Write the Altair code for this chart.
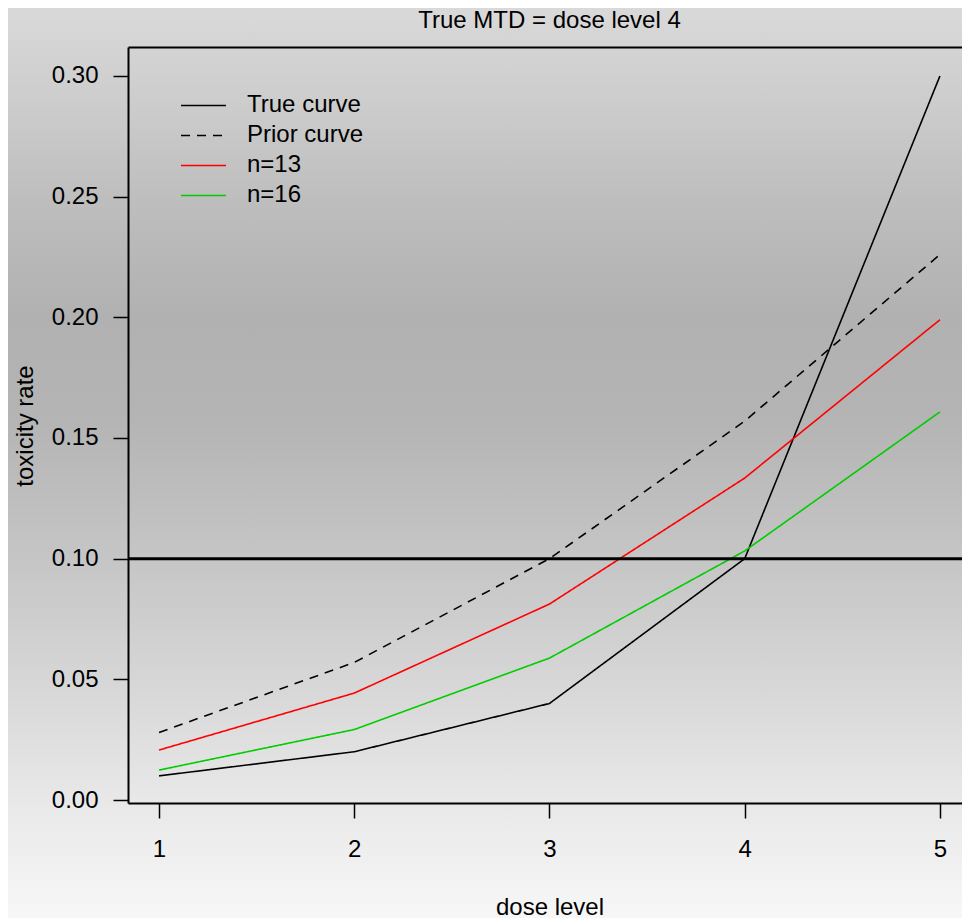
import altair as alt
import pandas as pd

# ---- data ----
doses = [1, 2, 3, 4, 5]
true_curve = [0.010, 0.020, 0.040, 0.100, 0.300]
prior_curve = [0.028, 0.057, 0.100, 0.157, 0.226]
n13_curve = [0.0207, 0.0443, 0.0812, 0.1334, 0.199]
n16_curve = [0.0124, 0.0292, 0.0588, 0.1032, 0.1608]
series_names = ["True curve", "Prior curve", "n=13", "n=16"]
series_colors = ["#000000", "#000000", "#ff0000", "#00cd00"]
series_dashes = [[1, 0], [9, 7], [1, 0], [1, 0]]
target_rate = [0.10]
y_ticks = [0.00, 0.05, 0.10, 0.15, 0.20, 0.25, 0.30]
title_text = ["True MTD = dose level 4"]
y_title_text = ["toxicity rate"]

rows = []
for name, vals in zip(series_names, [true_curve, prior_curve, n13_curve, n16_curve]):
    for d, v in zip(doses, vals):
        rows.append({"dose": d, "rate": v, "series": name})
df = pd.DataFrame(rows)
rule_df = pd.DataFrame({"rate": target_rate})
title_df = pd.DataFrame({"label": title_text})
ytitle_df = pd.DataFrame({"label": y_title_text})

W, H = 834, 756
PL, PT, PB = 120, 39, 115
FONT = "Liberation Sans"

x_scale = alt.Scale(domain=[0.841, 5.113], nice=False, zero=False)
y_scale = alt.Scale(domain=[-0.00124, 0.3120], nice=False, zero=False)

stops = [
    (0.0, "#d9d9d9"), (0.10, "#cdcdcd"), (0.21, "#bebebe"), (0.34, "#b1b1b1"),
    (0.45, "#b4b4b4"), (0.61, "#c6c6c6"), (0.76, "#d9d9d9"), (0.87, "#e8e8e8"),
    (1.0, "#f7f7f7"),
]
grad = alt.LinearGradient(
    gradient="linear", x1=0, y1=0, x2=0, y2=1,
    stops=[alt.GradientStop(offset=o, color=c) for o, c in stops],
)

bg = alt.Chart(pd.DataFrame({"k": [0]})).mark_rect(fill=grad).encode(
    x=alt.value(-PL), x2=alt.value(W + 10), y=alt.value(-PT), y2=alt.value(H + PB)
)

legend = alt.Legend(
    orient="none", legendX=52, legendY=43.8, title=None, symbolType="stroke",
    symbolSize=2025, symbolStrokeWidth=1.6, labelFontSize=24, labelFont=FONT,
    labelOffset=20, rowPadding=0, padding=0, labelColor="black", zindex=2,
    clipHeight=29.3,
)

axis_common = dict(grid=False, domainWidth=2, tickWidth=1.5, zindex=1,
                   domainColor="black", tickColor="black", labelColor="black",
                   titleColor="black", labelFont=FONT, titleFont=FONT,
                   titleFontWeight="normal", labelFlush=False)

x_axis = alt.Axis(
    values=doses, format="d", tickSize=15, labelPadding=19.5, labelFontSize=24,
    title="dose level", titleFontSize=24,
    titleBaseline="alphabetic", titleX=421.5, titleY=111, titleAlign="center",
    **axis_common)
y_axis = alt.Axis(
    values=y_ticks, format=".2f", tickSize=15, labelPadding=15, labelFontSize=24,
    title=None, **axis_common)

lines = alt.Chart(df).mark_line(strokeWidth=1.6).encode(
    x=alt.X("dose:Q", scale=x_scale, axis=x_axis),
    y=alt.Y("rate:Q", scale=y_scale, axis=y_axis),
    color=alt.Color("series:N", scale=alt.Scale(domain=series_names, range=series_colors),
                    sort=series_names, legend=legend),
    strokeDash=alt.StrokeDash("series:N", scale=alt.Scale(domain=series_names, range=series_dashes),
                              sort=series_names, legend=legend),
    detail="series:N",
)

rule = alt.Chart(rule_df).mark_rule(strokeWidth=3, color="black").encode(
    y=alt.Y("rate:Q", scale=y_scale, axis=y_axis)
)

top_axis = alt.Chart(df).mark_rule(opacity=0).encode(
    x=alt.X("dose:Q", scale=x_scale, axis=alt.Axis(
        orient="top", labels=False, ticks=False, title=None, grid=False,
        domain=True, domainWidth=2, domainColor="black", zindex=1))
)

title_mark = alt.Chart(title_df).mark_text(
    font=FONT, fontSize=24, align="center", baseline="alphabetic", color="black"
).encode(text="label:N", x=alt.value(421.5), y=alt.value(-19.5))

ytitle_mark = alt.Chart(ytitle_df).mark_text(
    font=FONT, fontSize=24, align="center", baseline="alphabetic", color="black", angle=270
).encode(text="label:N", x=alt.value(-94.7), y=alt.value(379))

chart = alt.layer(bg, lines, rule, top_axis, title_mark, ytitle_mark).resolve_axis(
    x="independent"
).properties(
    width=W, height=H,
    padding={"left": PL, "top": PT, "right": 0, "bottom": PB},
    autosize=alt.AutoSizeParams(type="none"),
).configure_view(stroke=None).configure(background="#d9d9d9")

chart.save("out.html", embed_options={"renderer": "svg", "actions": False})
